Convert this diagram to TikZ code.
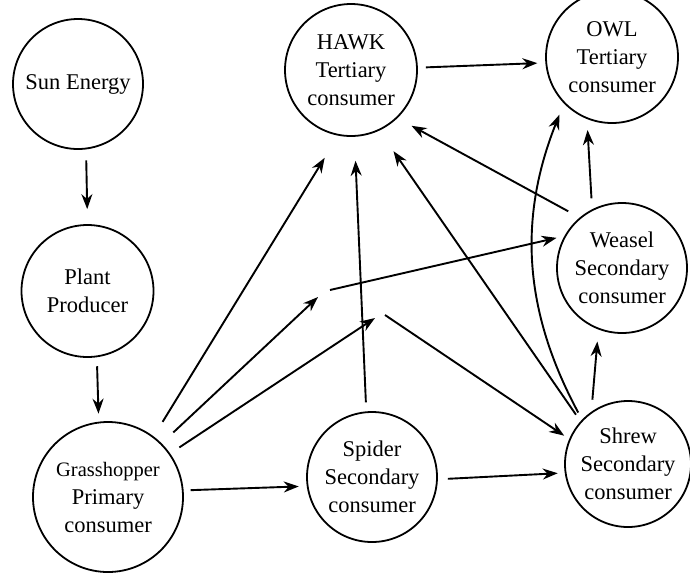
\documentclass[tikz,border=0pt]{standalone}
\usepackage{fontspec}
\setmainfont{Liberation Serif}
\usetikzlibrary{arrows.meta}

\tikzset{
    animal/.style = {circle, draw, line width=1.8pt, inner sep=0pt, align=center,
                     font=\fontsize{22.5}{28}\selectfont},
    feeds/.style  = {->, line width=1.9pt},
}

\begin{document}
\begin{tikzpicture}[x=1pt, y=1pt, >={Stealth[length=15pt, width=11pt]}]
    \useasboundingbox (0,0) rectangle (690,-574);

    \node (sun) [animal, minimum size=130pt] at (78,-84) {Sun Energy};
    \node (plant) [animal, minimum size=132pt, node distance=207pt, below of=sun, xshift=9.5pt] {Plant\\Producer};
    \node (grass) [animal, minimum size=150pt, node distance=206pt, below of=plant, xshift=20.5pt]
        {{\fontsize{20.5}{28}\selectfont Grasshopper}\\Primary\\consumer};
    \node (spider) [animal, minimum size=130pt, node distance=264pt, right of=grass, yshift=20pt] {Spider\\Secondary\\consumer};
    \node (shrew) [animal, minimum size=126pt, node distance=256pt, right of=spider, yshift=13pt] {Shrew\\Secondary\\consumer};
    \node (weasel) [animal, minimum size=130pt, node distance=196pt, above of=shrew, xshift=-6pt] {Weasel\\Secondary\\consumer};
    \node (owl) [animal, minimum size=132pt, node distance=211pt, above of=weasel, xshift=-10pt] {OWL\\Tertiary\\consumer};
    \node (hawk) [animal, minimum size=132pt, node distance=261pt, left of=owl, yshift=-13pt] {HAWK\\Tertiary\\consumer};

    % broken lines in the middle
    \coordinate (gw1) at (318,-297);
    \coordinate (gw2) at (330,-290);
    \coordinate (gs1) at (375,-318);
    \coordinate (gs2) at (385,-315);

    \path [feeds] (sun.-83)    edge [shorten <=11pt, shorten >=15pt] (plant.90)
                  (plant.-82)  edge [shorten <=9pt, shorten >=8pt] (grass.97)
                  (grass.5)    edge [shorten <=7pt, shorten >=8pt] (spider.188)
                  (spider.-2)  edge [shorten <=10pt, shorten >=7pt] (shrew.188)
                  (spider.95)  edge [shorten <=9pt, shorten >=24pt] (hawk.-87)
                  (grass.53)   edge [shorten <=17pt, shorten >=26pt] (hawk.259)
                  (grass.45)   edge [shorten <=16pt] (gw1)
                  (gw2)        edge [shorten >=8pt] (weasel.151)
                  (grass.35)   edge [shorten <=11pt] (gs1)
                  (gs2)        edge [shorten >=6pt] (shrew.157)
                  (shrew.138)  edge [shorten <=8pt, shorten >=25pt] (hawk.-65)
                  (weasel.130) edge [shorten <=13pt, shorten >=16pt] (hawk.-46)
                  (shrew.136)  edge [bend left=25, shorten <=8pt, shorten >=12pt] (owl.224)
                  (weasel.117) edge [shorten <=11pt, shorten >=11pt] (owl.248)
                  (shrew.125)  edge [shorten <=12pt, shorten >=12pt] (weasel.249)
                  (hawk.2)     edge [shorten <=8pt, shorten >=8pt] (owl.185);
\end{tikzpicture}
\end{document}
